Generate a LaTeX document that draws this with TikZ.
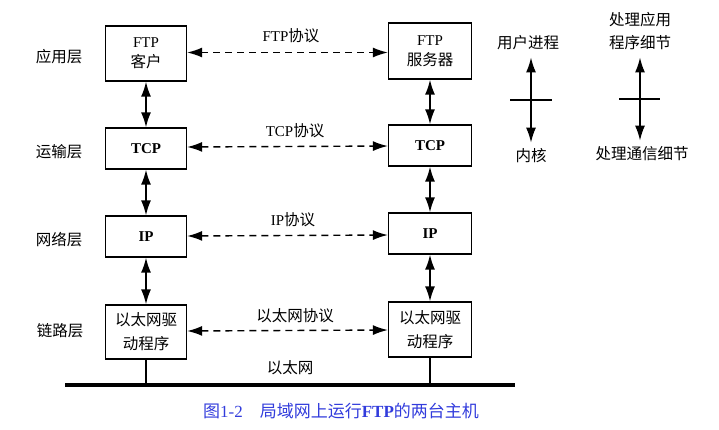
\documentclass[tikz,border=0pt]{standalone}
\usepackage{fontspec}
\setmainfont{Liberation Serif}
\newfontfamily\cjk{Noto Sans CJK SC}
\usetikzlibrary{arrows.meta}
\definecolor{capblue}{RGB}{50,60,220}
\begin{document}
\begin{tikzpicture}[x=1pt,y=-1pt,
  box/.style={draw,line width=1.3pt,inner sep=0pt,align=center,font=\fontsize{15}{20}\selectfont},
  lbl/.style={inner sep=0pt,align=center,font=\fontsize{15.5}{23}\selectfont\cjk},
  plbl/.style={inner sep=0pt,font=\fontsize{15}{18}\selectfont},
  vlink/.style={line width=1.6pt,{Latex[length=15pt,width=10pt]}-{Latex[length=15pt,width=10pt]}},
  dlink/.style={line width=1.4pt,dash pattern=on 7pt off 5pt,{Latex[length=15pt,width=10pt]}-{Latex[length=15pt,width=10pt]}}
]
\useasboundingbox (0,0) rectangle (719,429);
% left host
\node[box,minimum width=81pt,minimum height=55pt] (lftp) at (146,53.5) {FTP\\{\cjk\fontsize{15.5}{20}\selectfont 客户}};
\node[box,minimum width=81pt,minimum height=41pt,font=\fontsize{15}{18}\selectfont\bfseries] (ltcp) at (146,148.5) {TCP};
\node[box,minimum width=81pt,minimum height=41pt,font=\fontsize{15}{18}\selectfont\bfseries] (lip) at (146,236.5) {IP};
\node[box,minimum width=81pt,minimum height=54pt,font=\fontsize{15.5}{24}\selectfont\cjk] (ldrv) at (146,332) {以太网驱\\动程序};
% right host
\node[box,minimum width=83pt,minimum height=56pt] (rftp) at (430,51) {FTP\\{\cjk\fontsize{15.5}{20}\selectfont 服务器}};
\node[box,minimum width=83pt,minimum height=41pt,font=\fontsize{15}{18}\selectfont\bfseries] (rtcp) at (430,145.5) {TCP};
\node[box,minimum width=83pt,minimum height=41pt,font=\fontsize{15}{18}\selectfont\bfseries] (rip) at (430,233.5) {IP};
\node[box,minimum width=83pt,minimum height=55pt,font=\fontsize{15.5}{24}\selectfont\cjk] (rdrv) at (430,329.5) {以太网驱\\动程序};
% vertical links
\draw[vlink] (lftp) -- (ltcp);
\draw[vlink] (ltcp) -- (lip);
\draw[vlink] (lip) -- (ldrv);
\draw[vlink] (rftp) -- (rtcp);
\draw[vlink] (rtcp) -- (rip);
\draw[vlink] (rip) -- (rdrv);
% peer protocols
\draw[dlink] (lftp.east |- 0,52.5) -- (rftp.west |- 0,52.5);
\draw[dlink] (ltcp.east |- 0,147) -- (rtcp.west |- 0,146);
\draw[dlink] (lip.east |- 0,236) -- (rip.west |- 0,235);
\draw[dlink] (ldrv.east |- 0,331) -- (rdrv.west |- 0,330);
\node[plbl] (p1) at (291,36) {FTP{\cjk\fontsize{15.5}{18}\selectfont 协议}};
\node[plbl] (p2) at (295,131) {TCP{\cjk\fontsize{15.5}{18}\selectfont 协议}};
\node[plbl] (p3) at (293,220) {IP{\cjk\fontsize{15.5}{18}\selectfont 协议}};
\node[lbl] (p4) at (295,316) {以太网协议};
\node[lbl] (p5) at (290,368) {以太网};
% layer labels
\node[lbl] (l1) at (59,57) {应用层};
\node[lbl] (l2) at (59,152) {运输层};
\node[lbl] (l3) at (59,240) {网络层};
\node[lbl] (l4) at (60,331) {链路层};
% ethernet bus
\coordinate (busL) at (65,385);
\coordinate (busR) at (515,385);
\draw[line width=3.4pt] (busL) -- (busR);
\draw[line width=1.1pt] (ldrv.south) -- (ldrv.south |- busL);
\draw[line width=1.1pt] (rdrv.south) -- (rdrv.south |- busR);
% legend
\node[lbl] (u1) at (528,43) {用户进程};
\node[lbl] (u2) at (531,156) {内核};
\coordinate (t1a) at (510,100);
\coordinate (t1b) at (552,100);
\draw[line width=1.3pt] (t1a) -- (t1b);
\draw[vlink] ([yshift=-7pt]u1.south -| 531,0) -- ([yshift=6pt]u2.north -| 531,0);
\node[lbl] (a1) at (640,31.5) {处理应用\\程序细节};
\node[lbl] (a2) at (642,154) {处理通信细节};
\coordinate (t2a) at (619,99);
\coordinate (t2b) at (660,99);
\draw[line width=1.3pt] (t2a) -- (t2b);
\draw[vlink] ([yshift=-7pt]a1.south -| 640,0) -- ([yshift=6pt]a2.north -| 640,0);
% caption
\node[inner sep=0pt,text=capblue,font=\fontsize{17}{20}\selectfont] (cap) at (341,411) {{\cjk 图}1-2\hspace{1em}{\cjk 局域网上运行}\textbf{FTP}{\cjk 的两台主机}};
\end{tikzpicture}
\end{document}
